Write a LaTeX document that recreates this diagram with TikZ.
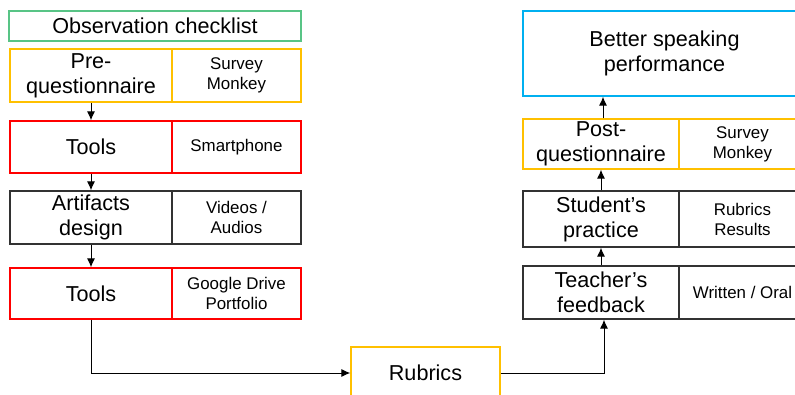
\documentclass[tikz,border=0pt]{standalone}
\usepackage{fontspec}
\setmainfont{Liberation Sans}
\usetikzlibrary{arrows.meta}
\definecolor{cgreen}{RGB}{88,196,134}
\definecolor{cyellow}{RGB}{255,192,0}
\definecolor{cred}{RGB}{255,0,0}
\definecolor{cblue}{RGB}{0,176,240}
\definecolor{cdark}{RGB}{50,50,50}
\tikzset{
  box/.style={draw, line width=1.3pt, inner sep=0pt, align=center, text=black},
  big/.style={font=\fontsize{21.6}{25}\selectfont},
  small/.style={font=\fontsize{16.9}{20}\selectfont},
  conn/.style={draw=black, line width=1pt, -{Latex[length=9pt,width=8pt]}}
}
\begin{document}
\begin{tikzpicture}[x=1pt,y=-1pt]
\useasboundingbox (0,0) rectangle (795,394);
\clip (0,0) rectangle (795,394);
% left column
\node[box,big,draw=cgreen,minimum width=292pt,minimum height=30pt] (obs) at (155,26) {Observation checklist};
\node[box,big,draw=cyellow,minimum width=162pt,minimum height=53pt] (preq) at (91,75.5) {Pre-\\questionnaire};
\node[box,small,draw=cyellow,minimum width=129pt,minimum height=53pt] (preqr) at (236.5,75.5) {Survey\\Monkey};
\node[box,big,draw=cred,minimum width=162pt,minimum height=52pt] (toolsa) at (91,147) {Tools};
\node[box,small,draw=cred,minimum width=129pt,minimum height=52pt] (toolsar) at (236.5,147) {Smartphone};
\node[box,big,draw=cdark,minimum width=162pt,minimum height=53pt] (art) at (91,217.5) {Artifacts\\design};
\node[box,small,draw=cdark,minimum width=129pt,minimum height=53pt] (artr) at (236.5,217.5) {Videos /\\Audios};
\node[box,big,draw=cred,minimum width=162pt,minimum height=51pt] (toolsb) at (91,293.5) {Tools};
\node[box,small,draw=cred,minimum width=129pt,minimum height=51pt] (toolsbr) at (236.5,293.5) {Google Drive\\Portfolio};
% bottom
\node[box,big,draw=cyellow,minimum width=149pt,minimum height=52pt] (rub) at (425.5,373) {Rubrics};
% right column
\node[box,big,draw=cblue,minimum width=283pt,minimum height=85pt] (better) at (664.5,53.5) {Better speaking\\performance};
\node[box,big,draw=cyellow,minimum width=156pt,minimum height=50pt] (post) at (601,144) {Post-\\questionnaire};
\node[box,small,draw=cyellow,minimum width=127pt,minimum height=50pt] (postr) at (742.5,144) {Survey\\Monkey};
\node[box,big,draw=cdark,minimum width=156pt,minimum height=56pt] (stud) at (601,219) {Student’s\\practice};
\node[box,small,draw=cdark,minimum width=127pt,minimum height=56pt] (studr) at (742.5,219) {Rubrics\\Results};
\node[box,big,draw=cdark,minimum width=156pt,minimum height=53pt] (teach) at (601,292.5) {Teacher’s\\feedback};
\node[box,small,draw=cdark,minimum width=127pt,minimum height=53pt] (teachr) at (742.5,292.5) {Written / Oral};
% connectors
\draw[conn] (preq.south) -- (toolsa.north);
\draw[conn] (toolsa.south) -- (art.north);
\draw[conn] (art.south) -- (toolsb.north);
\draw[conn] (toolsb.south) |- (rub.west);
\draw[conn] (rub.east) -| ([xshift=3pt]teach.south);
\draw[conn] (teach.north) -- (stud.south);
\draw[conn] (stud.north) -- (post.south);
\draw[conn] ([xshift=2pt]post.north) -- ([xshift=2pt]post.north |- better.south);
\end{tikzpicture}
\end{document}
